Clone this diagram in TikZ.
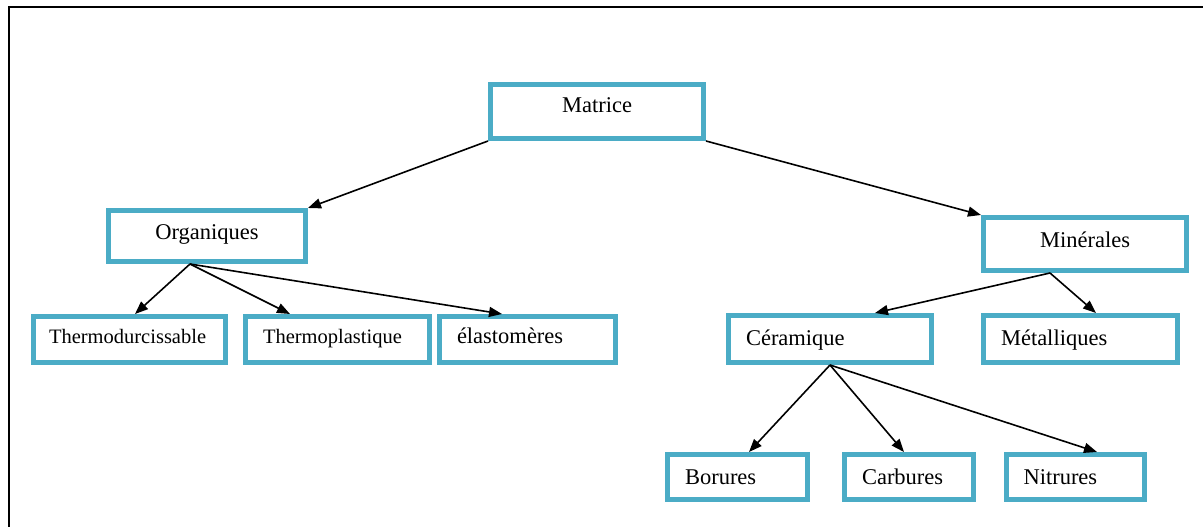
\documentclass[tikz,border=0pt]{standalone}
\usepackage{fontspec}
\setmainfont{Liberation Serif}
\usetikzlibrary{arrows.meta,calc}
\definecolor{boxblue}{HTML}{4BACC6}
\tikzset{
  bx/.style={draw=boxblue, line width=5pt, fill=white, inner ysep=0pt,
    font=\fontsize{22.5pt}{27pt}\selectfont, text height=15pt},
  cbox/.style 2 args={bx, minimum width=#1-5pt, minimum height=#2-5pt, align=center},
  lbox/.style 2 args={bx, inner xsep=17.5pt, text width=#1-40pt, minimum height=#2-5pt, align=left},
  arr/.style={-{Triangle[length=13pt,width=10pt]}, line width=1.6pt, draw=black},
  frameline/.style={line width=2pt, draw=black}
}
\begin{document}
\begin{tikzpicture}[x=1pt,y=-1pt]
\useasboundingbox (0,0) rectangle (1203,527);
\draw[frameline] (9,527) -- (9,7) -- (1203,7);

\node[cbox={218pt}{59pt}, text depth=12pt] (mat) at (597,111.5) {Matrice};
\node[cbox={202pt}{56pt}, text depth=9pt] (org) at (207,236) {Organiques};
\node[cbox={208pt}{58pt}, text depth=9pt] (min) at (1085,244) {Minérales};

\node[lbox={200pt}{51pt}, text depth=8pt, font=\fontsize{20.5pt}{25pt}\selectfont, inner xsep=16pt] (thd) at (129,339.5) {Thermodurcissable};
\node[lbox={189pt}{51pt}, text depth=8pt, font=\fontsize{20.5pt}{25pt}\selectfont] (thp) at (337.5,339.5) {Thermoplastique};
\node[lbox={181pt}{51pt}, text depth=8pt] (ela) at (527.5,339.5) {élastomères};

\node[lbox={208pt}{52pt}, text depth=3pt] (cer) at (830,339) {Céramique};
\node[lbox={199pt}{52pt}, text depth=3pt] (met) at (1080.5,339) {Métalliques};

\node[lbox={145pt}{50pt}, text depth=1pt] (bor) at (737.5,477) {Borures};
\node[lbox={134pt}{50pt}, text depth=1pt] (car) at (909,477) {Carbures};
\node[lbox={143pt}{50pt}, text depth=1pt] (nit) at (1075,477) {Nitrures};

\draw[arr] (mat.south west) -- (org.north east);
\draw[arr] (mat.south east) -- (min.north west);

\draw[arr] ([xshift=-17pt]org.south) -- ([xshift=6pt]thd.north);
\draw[arr] ([xshift=-17pt]org.south) -- ([xshift=-47.5pt]thp.north);
\draw[arr] ([xshift=-17pt]org.south) -- ([xshift=-25.5pt]ela.north);

\draw[arr] ([xshift=-35pt]min.south) -- ([xshift=45pt]cer.north);
\draw[arr] ([xshift=-35pt]min.south) -- ([xshift=15.5pt]met.north);

\draw[arr] (cer.south) -- ([xshift=11.5pt]bor.north);
\draw[arr] (cer.south) -- ([xshift=-5pt]car.north);
\draw[arr] (cer.south) -- ([xshift=22pt]nit.north);
\end{tikzpicture}
\end{document}
